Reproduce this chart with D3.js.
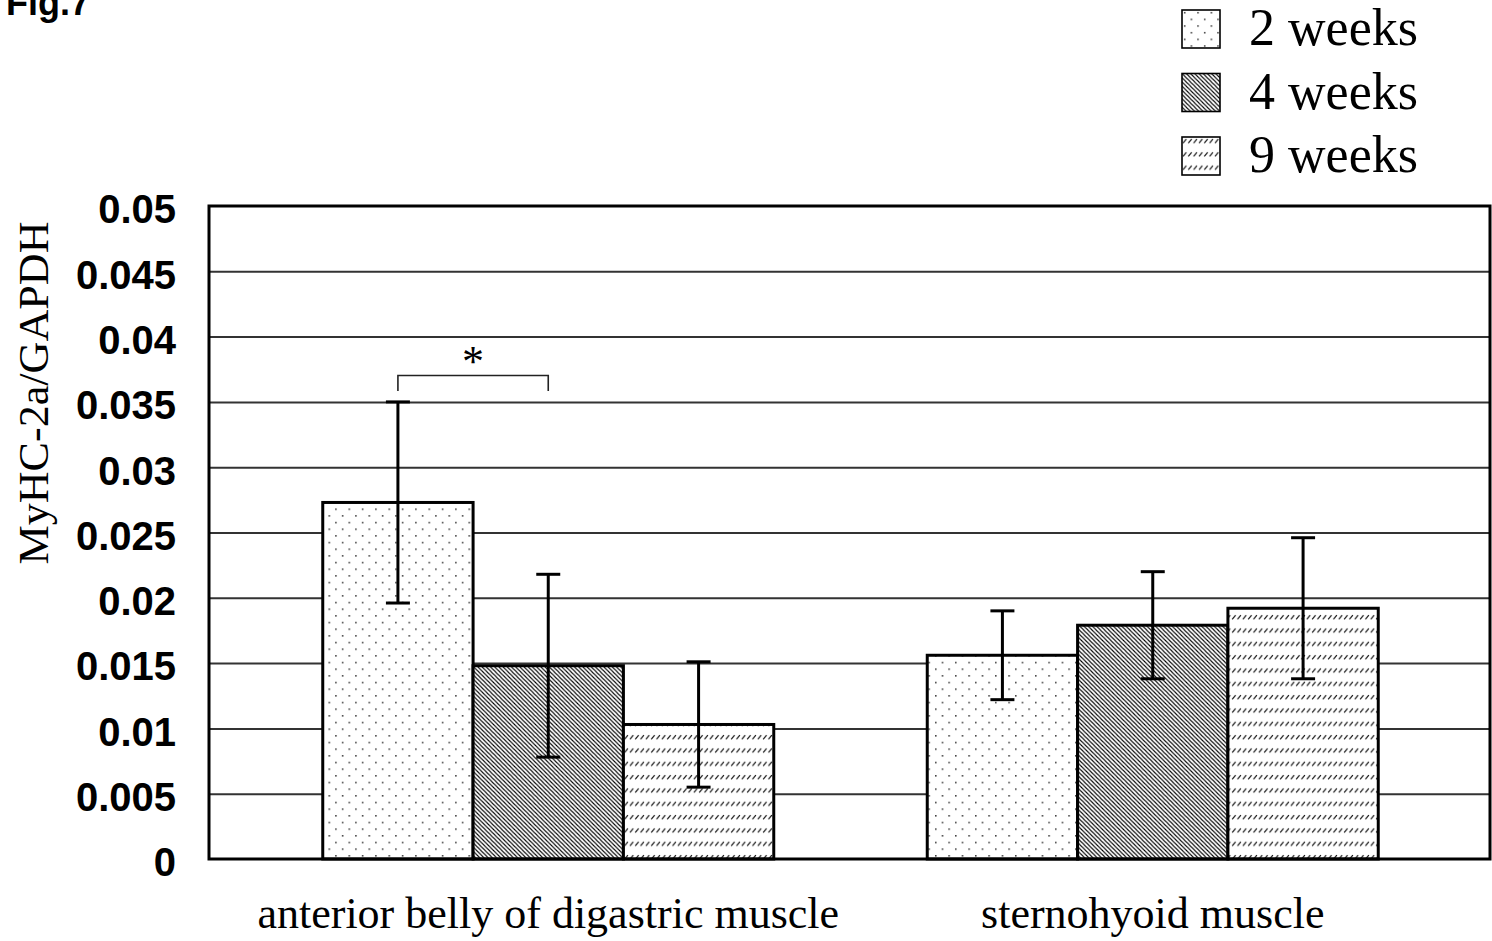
<!DOCTYPE html>
<html>
<head>
<meta charset="utf-8">
<script src="https://cdn.jsdelivr.net/npm/d3@7"></script>
<style>
  body { margin: 0; background: #fff; }
  svg { display: block; }
</style>
</head>
<body>
<div id="chart"></div>
<script>
// values
const categories = ["anterior belly of digastric muscle", "sternohyoid muscle"];
const series = ["2 weeks", "4 weeks", "9 weeks"];
const means = [
    [0.0273, 0.0148, 0.0103],   // anterior belly of digastric muscle
    [0.0156, 0.0179, 0.0192]    // sternohyoid muscle
];
const errors = [
    [0.0077, 0.0070, 0.0048],
    [0.0034, 0.0041, 0.0054]
];
const tickValues = [0, 0.005, 0.01, 0.015, 0.02, 0.025, 0.03, 0.035, 0.04, 0.045, 0.05];
const tickLabels = ["0", "0.005", "0.01", "0.015", "0.02", "0.025", "0.03", "0.035", "0.04", "0.045", "0.05"];

const width = 1492, height = 941;
const plot = { left: 209, right: 1490, top: 206, bottom: 859 };

const svg = d3.select("#chart").append("svg")
    .attr("width", width)
    .attr("height", height);

// hatch patterns
const defs = svg.append("defs");

const dots = defs.append("pattern")
    .attr("id", "p0").attr("patternUnits", "userSpaceOnUse")
    .attr("width", 13.33).attr("height", 13.33);
dots.append("rect").attr("width", 13.33).attr("height", 13.33).attr("fill", "#fff");
dots.append("rect").attr("x", 2).attr("y", 2).attr("width", 1.4).attr("height", 1.4).attr("fill", "#111");
dots.append("rect").attr("x", 8.67).attr("y", 8.67).attr("width", 1.4).attr("height", 1.4).attr("fill", "#111");

const diag = defs.append("pattern")
    .attr("id", "p1").attr("patternUnits", "userSpaceOnUse")
    .attr("width", 4.2).attr("height", 4.2);
diag.append("rect").attr("width", 4.2).attr("height", 4.2).attr("fill", "#fff");
diag.append("path")
    .attr("d", "M-1,-1 L5.2,5.2 M-1,3.2 L1,5.2 M3.2,-1 L5.2,1")
    .attr("stroke", "#000").attr("stroke-width", 1.1);

const slash = defs.append("pattern")
    .attr("id", "p2").attr("patternUnits", "userSpaceOnUse")
    .attr("width", 5.33).attr("height", 13.33);
slash.append("rect").attr("width", 5.33).attr("height", 13.33).attr("fill", "#fff");
slash.append("path")
    .attr("d", "M1,6 L4.3,2")
    .attr("stroke", "#111").attr("stroke-width", 1.2);

// scales
const y = d3.scaleLinear().domain([0, 0.05]).range([plot.bottom, plot.top]);
const x0 = d3.scaleBand().domain(categories).range([246, 1455]);
const x1 = d3.scaleBand().domain(series).range([-225.5, 225.5]);
const cx = c => x0(c) + x0.bandwidth() / 2;

// gridlines
svg.append("g")
    .attr("transform", `translate(${plot.left},0)`)
    .call(d3.axisLeft(y).tickValues(tickValues.slice(1, -1))
        .tickSize(-(plot.right - plot.left)).tickFormat(""))
    .call(g => g.select(".domain").remove())
    .call(g => g.selectAll("line").attr("stroke", "#333").attr("stroke-width", 2));

// tick labels
svg.append("g")
    .attr("transform", `translate(${plot.left},0)`)
    .call(d3.axisLeft(y).tickValues(tickValues).tickSize(0).tickPadding(33)
        .tickFormat((d, i) => tickLabels[i]))
    .call(g => g.select(".domain").remove())
    .call(g => g.selectAll("text")
        .attr("font-family", "'Liberation Sans Narrow', 'Liberation Sans', Arial, sans-serif")
        .attr("font-weight", "bold")
        .attr("font-size", 40)
        .attr("fill", "#000")
        .attr("dy", "0.42em"));

// bars
const barData = [];
categories.forEach((c, ci) => series.forEach((s, si) => {
    barData.push({ c, s, si, v: means[ci][si], e: errors[ci][si] });
}));

svg.append("g").selectAll("rect")
    .data(barData)
    .join("rect")
    .attr("x", d => cx(d.c) + x1(d.s))
    .attr("y", d => y(d.v))
    .attr("width", x1.bandwidth())
    .attr("height", d => y(0) - y(d.v))
    .attr("fill", d => `url(#p${d.si})`)
    .attr("stroke", "#000")
    .attr("stroke-width", 3);

// error bars
const eb = svg.append("g").selectAll("g")
    .data(barData)
    .join("g")
    .attr("stroke", "#000")
    .attr("stroke-width", 3);
const ex = d => cx(d.c) + x1(d.s) + x1.bandwidth() / 2;
eb.append("line")
    .attr("x1", ex).attr("x2", ex)
    .attr("y1", d => y(d.v + d.e)).attr("y2", d => y(d.v - d.e));
eb.append("line")
    .attr("x1", d => ex(d) - 12).attr("x2", d => ex(d) + 12)
    .attr("y1", d => y(d.v + d.e)).attr("y2", d => y(d.v + d.e));
eb.append("line")
    .attr("x1", d => ex(d) - 12).attr("x2", d => ex(d) + 12)
    .attr("y1", d => y(d.v - d.e)).attr("y2", d => y(d.v - d.e));

// plot frame
svg.append("rect")
    .attr("x", plot.left).attr("y", plot.top)
    .attr("width", plot.right - plot.left)
    .attr("height", plot.bottom - plot.top)
    .attr("fill", "none")
    .attr("stroke", "#000")
    .attr("stroke-width", 3);

// significance bracket
const bx1 = ex(barData[0]), bx2 = ex(barData[1]);
svg.append("path")
    .attr("d", `M${bx1},391 V375.5 H${bx2} V391`)
    .attr("fill", "none")
    .attr("stroke", "#222")
    .attr("stroke-width", 1.6);
svg.append("text")
    .attr("x", (bx1 + bx2) / 2)
    .attr("y", 376)
    .attr("text-anchor", "middle")
    .attr("font-family", "'Liberation Serif', 'Times New Roman', serif")
    .attr("font-size", 44)
    .text("*");

// category labels
svg.append("g").selectAll("text")
    .data(categories)
    .join("text")
    .attr("x", d => cx(d))
    .attr("y", 928)
    .attr("text-anchor", "middle")
    .attr("font-family", "'Liberation Serif', 'Times New Roman', serif")
    .attr("font-size", 44)
    .text(d => d);

// y axis title
svg.append("text")
    .attr("transform", "translate(48,393) rotate(-90)")
    .attr("text-anchor", "middle")
    .attr("font-family", "'Liberation Serif', 'Times New Roman', serif")
    .attr("font-size", 43)
    .attr("textLength", 343)
    .attr("lengthAdjust", "spacingAndGlyphs")
    .text("MyHC-2a/GAPDH");

// legend
const legend = svg.append("g").selectAll("g")
    .data(series)
    .join("g")
    .attr("transform", (d, i) => `translate(1182,${10 + i * 63.5})`);
legend.append("rect")
    .attr("width", 38).attr("height", 38)
    .attr("fill", (d, i) => `url(#p${i})`)
    .attr("stroke", "#000")
    .attr("stroke-width", 1.6);
legend.append("text")
    .attr("x", 67)
    .attr("y", 35)
    .attr("font-family", "'Liberation Serif', 'Times New Roman', serif")
    .attr("font-size", 52)
    .text(d => d);

// figure label, cut at the top edge as in the source
svg.append("text")
    .attr("x", 6)
    .attr("y", 15)
    .attr("font-family", "'Liberation Sans', Arial, sans-serif")
    .attr("font-weight", "bold")
    .attr("font-size", 36)
    .text("Fig.7");
</script>
</body>
</html>
